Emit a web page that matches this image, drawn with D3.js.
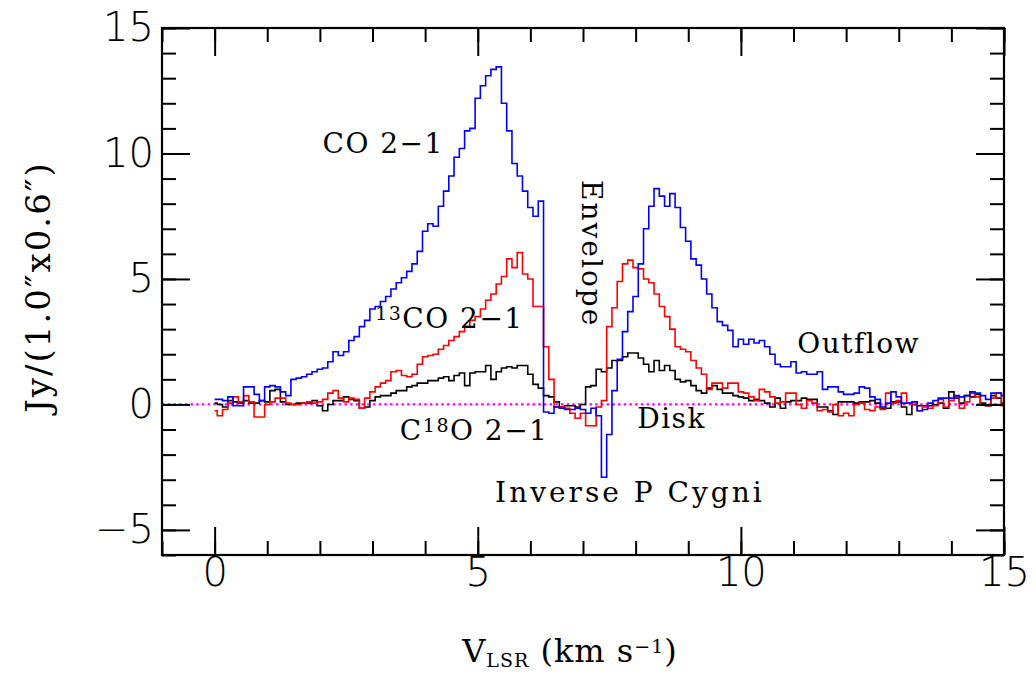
<!DOCTYPE html>
<html>
<head>
<meta charset="utf-8">
<script src="https://cdn.jsdelivr.net/npm/d3@7"></script>
<style>
  body { margin: 0; background: #fff; }
  .tick text { font-family: "DejaVu Sans", sans-serif; font-weight: 200; }
</style>
</head>
<body>
<div id="chart"></div>
<script>
// channel grid (km/s)
var v0 = 0, dv = 0.1;

// CO 2-1 (blue)
var co21 = [
  0.2,0.2,0.15,0.3,-0.05,-0.05,0.7,0.7,0.4,0.15,
  0.7,0.75,0.7,0.5,0.35,1.0,1.05,1.1,1.2,1.3,
  1.4,1.45,1.7,2.1,1.95,2.1,2.55,2.7,3.1,3.35,
  3.8,3.9,4.1,4.3,4.6,4.85,5.05,5.3,5.6,6.1,
  6.9,7.2,7.1,7.9,8.5,9.1,9.85,10.2,10.9,11.0,
  12.2,12.7,13.1,13.35,13.45,12.0,10.9,9.6,9.1,8.5,
  7.85,7.5,8.1,-0.3,-0.35,-0.1,-0.15,-0.2,-0.2,-0.15,
  -0.2,-0.35,-0.15,-0.45,-2.9,-1.2,0.55,1.8,2.9,3.7,
  4.3,5.6,7.0,7.9,8.6,8.3,7.9,8.4,7.85,7.05,
  6.5,5.8,5.55,5.0,4.4,3.85,3.3,3.15,2.95,2.3,
  2.6,2.4,2.6,2.45,2.55,2.3,2.0,1.6,1.5,1.5,
  1.7,1.25,1.3,1.2,1.2,1.3,0.6,0.7,0.7,0.5,
  0.4,0.4,0.45,0.7,0.65,0.3,0.2,-0.1,0.05,0.5,
  0.3,0.05,0.05,0.1,-0.25,-0.2,0.05,0.15,0.25,0.25,
  0.25,0.35,0.3,0.35,0.5,0.45,0.35,0.2,0.45,0.45,
  0.35
];

// 13CO 2-1 (red)
var co13 = [
  -0.25,-0.45,-0.2,0.05,0.3,0.1,0.35,0.1,-0.5,-0.5,
  0.0,0.1,0.25,0.25,0.05,0.0,0.0,0.05,0.1,0.05,
  0.1,0.2,0.45,0.55,0.25,0.1,0.25,0.2,-0.15,0.25,
  0.5,0.7,0.85,0.95,1.3,1.35,1.15,1.1,1.2,1.6,
  1.9,1.95,2.0,2.2,2.35,2.55,2.7,2.9,3.1,3.35,
  3.5,3.8,4.15,4.4,4.8,5.1,5.8,5.45,6.05,5.2,
  5.0,3.9,3.9,2.3,1.0,-0.1,-0.1,-0.15,-0.35,-0.55,
  -0.35,-0.85,-0.85,-0.1,0.15,3.1,3.85,4.9,5.6,5.75,
  5.45,5.4,5.0,4.85,4.4,3.9,3.5,3.0,2.3,2.2,
  2.1,1.75,1.45,1.2,0.6,0.85,0.85,0.65,0.85,0.85,
  0.5,0.45,0.3,0.15,0.6,0.5,0.3,0.05,0.1,0.45,
  0.45,0.0,-0.15,0.15,0.05,-0.25,-0.2,-0.3,0.0,-0.45,
  -0.35,-0.45,0.0,0.05,-0.2,-0.25,-0.1,-0.2,0.45,0.05,
  0.15,0.45,0.05,0.0,-0.25,-0.1,-0.15,-0.05,0.2,-0.1,
  0.15,0.3,-0.15,0.1,0.45,0.3,0.0,-0.05,0.25,0.45,
  -0.05
];

// C18O 2-1 (black)
var c18o = [
  0.05,0.0,-0.1,0.15,0.1,0.05,0.15,0.05,0.05,0.15,
  0.1,0.55,0.6,0.1,0.0,0.0,0.05,0.05,0.05,0.15,
  -0.05,-0.25,0.0,0.15,0.15,0.3,0.2,0.15,-0.15,-0.1,
  0.15,0.3,0.35,0.35,0.45,0.55,0.55,0.7,0.75,0.85,
  0.85,0.95,0.95,1.05,1.1,0.95,1.15,1.25,0.75,1.25,
  1.3,1.3,1.55,1.0,1.3,1.45,1.5,1.45,1.55,1.55,
  1.2,0.8,0.65,0.35,0.3,0.1,-0.1,-0.05,-0.05,-0.1,
  0.0,0.7,0.75,1.4,1.3,1.45,1.75,1.75,1.9,2.05,
  2.05,1.85,1.6,1.3,1.75,1.35,1.55,1.35,1.0,0.9,
  0.95,0.75,0.55,0.45,0.65,0.75,0.6,0.45,0.45,0.35,
  0.3,0.25,0.15,0.2,0.15,0.05,-0.1,0.25,-0.15,0.1,
  0.15,0.15,0.25,0.2,0.2,-0.1,-0.1,-0.25,-0.4,0.1,
  0.1,0.1,0.05,0.1,0.1,0.15,0.05,-0.15,-0.15,0.1,
  0.1,-0.1,-0.4,0.0,-0.05,-0.05,-0.05,0.0,0.05,-0.15,
  0.5,0.25,0.05,0.35,0.3,0.4,0.05,-0.05,0.35,0.25,
  0.05
];

var xMajor = [0, 5, 10, 15];
var yMajor = [-5, 0, 5, 10, 15];
var xMinor = d3.range(-1, 16, 1);
var yMinor = d3.range(-6, 16, 1);

var margin = {top: 28, right: 32, bottom: 120, left: 162},
    W = 1036, H = 675,
    w = W - margin.left - margin.right,
    h = H - margin.top - margin.bottom;

var svg = d3.select("#chart").append("svg")
    .attr("width", W).attr("height", H)
    .style("background", "#fff");

var g = svg.append("g")
    .attr("transform", "translate(" + margin.left + "," + margin.top + ")");

var x = d3.scaleLinear().domain([-1, 15]).range([0, w]);
var y = d3.scaleLinear().domain([-6, 15]).range([h, 0]);

// zero line
g.append("line")
  .attr("x1", 0).attr("x2", w)
  .attr("y1", y(0)).attr("y2", y(0))
  .style("stroke", "#ff00ff")
  .style("stroke-width", 2.2)
  .style("stroke-dasharray", "2.5,3.2");

// spectra
var line = d3.line()
  .x(function(d, i) { return x(v0 + i * dv); })
  .y(function(d) { return y(d); })
  .curve(d3.curveStep);

[[c18o, "#000000"], [co13, "#ff0000"], [co21, "#0000ff"]].forEach(function(s) {
  g.append("path")
    .datum(s[0])
    .attr("d", line)
    .style("fill", "none")
    .style("stroke", s[1])
    .style("stroke-width", 1.6);
});

// axes: minor and major ticks on all four sides, pointing in
function ticks(axis, vals, size, tr) {
  var a = g.append("g").attr("transform", tr)
    .call(axis.tickValues(vals).tickSizeInner(-size).tickSizeOuter(0).tickFormat(""));
  a.select(".domain").remove();
  a.selectAll("line").style("stroke", "#000").style("stroke-width", 2);
  return a;
}
ticks(d3.axisBottom(x), xMinor, 14, "translate(0," + h + ")");
ticks(d3.axisTop(x), xMinor, 14, "translate(0,0)");
ticks(d3.axisLeft(y), yMinor, 14, "translate(0,0)");
ticks(d3.axisRight(y), yMinor, 14, "translate(" + w + ",0)");
ticks(d3.axisBottom(x), xMajor, 28, "translate(0," + h + ")");
ticks(d3.axisTop(x), xMajor, 28, "translate(0,0)");
ticks(d3.axisLeft(y), yMajor, 28, "translate(0,0)");
ticks(d3.axisRight(y), yMajor, 28, "translate(" + w + ",0)");

// tick labels
var xl = g.append("g").attr("transform", "translate(0," + h + ")")
  .call(d3.axisBottom(x).tickValues(xMajor).tickSize(0).tickPadding(3));
xl.select(".domain").remove();
xl.selectAll("text").style("font-size", "40px").style("fill", "#000");

var yl = g.append("g")
  .call(d3.axisLeft(y).tickValues(yMajor).tickSize(0).tickPadding(8)
    .tickFormat(function(d) { return d < 0 ? "\u2212" + (-d) : d; }));
yl.select(".domain").remove();
yl.selectAll("text").style("font-size", "40px").style("fill", "#000");

// frame
g.append("rect")
  .attr("width", w).attr("height", h)
  .style("fill", "none").style("stroke", "#000").style("stroke-width", 2.2);

// annotations
var serif = '"DejaVu Serif", serif';
function note(vx, vy, parts, rot, ls) {
  var t = g.append("text")
    .attr("transform", "translate(" + x(vx) + "," + y(vy) + ")" + (rot ? " rotate(" + rot + ")" : ""))
    .style("font-family", serif).style("font-size", "28px")
    .style("letter-spacing", (ls || 1.5) + "px").style("fill", "#000");
  parts.forEach(function(p) {
    var s = t.append("tspan").text(p[0]);
    if (p[1] === "sup") s.style("font-size", "19px").attr("baseline-shift", "40%");
  });
}
note(2.05, 10.0, [["CO 2\u22121"]]);
note(3.05, 3.05, [["13", "sup"], ["CO 2\u22121"]]);
note(3.52, -1.42, [["C"], ["18", "sup"], ["O 2\u22121"]]);
note(6.98, 8.94, [["Envelope"]], 90, 2);
note(11.07, 2.05, [["Outflow"]]);
note(8.03, -0.94, [["Disk"]]);
note(5.33, -3.89, [["Inverse P Cygni"]], 0, 3);

// axis titles
var xt = svg.append("text")
  .attr("x", 570).attr("y", 662)
  .attr("text-anchor", "middle")
  .style("font-family", serif).style("font-size", "32px").style("letter-spacing", "1px");
xt.append("tspan").text("V");
xt.append("tspan").text("LSR").style("font-size", "19px").attr("baseline-shift", "-25%");
xt.append("tspan").text(" (km s");
xt.append("tspan").text("\u22121").style("font-size", "19px").attr("baseline-shift", "45%");
xt.append("tspan").text(")");

svg.append("text")
  .attr("transform", "translate(50,287) rotate(-90)")
  .attr("text-anchor", "middle")
  .style("font-family", serif).style("font-size", "34px").style("letter-spacing", "2px")
  .text("Jy/(1.0\u2033x0.6\u2033)");
</script>
</body>
</html>
